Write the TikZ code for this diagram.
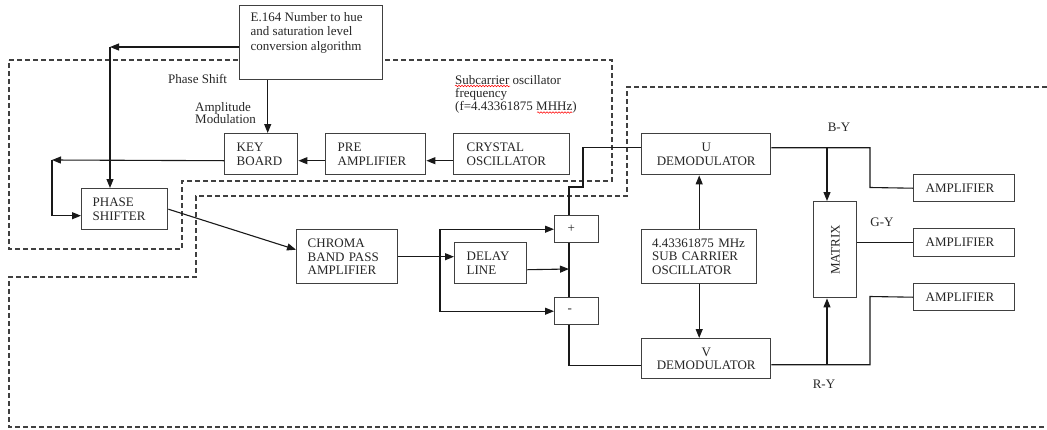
\documentclass[tikz,border=0pt]{standalone}
\usepackage{fontspec}
\setmainfont{Liberation Serif}
\usetikzlibrary{arrows.meta,decorations.pathmorphing}
\begin{document}
\begin{tikzpicture}[x=1pt,y=-1pt,
  every node/.style={font=\fontsize{13}{13.7}\selectfont, text=black!85},
  box/.style={draw=black!75, line width=1.4pt, fill=white, anchor=north west, inner ysep=0pt, align=left},
  arr/.style={-{Triangle[length=9pt,width=7pt]}, line width=1.1pt, draw=black!90},
  wire/.style={line width=1.1pt, draw=black!90},
  dashline/.style={draw=black!75, line width=1.2pt, dash pattern=on 5pt off 3pt},
  lbl/.style={inner sep=0pt, align=left},
  squig/.style={draw=red, line width=0.5pt, decorate, decoration={snake, amplitude=0.8pt, segment length=3pt}}
]
\useasboundingbox (0,0) rectangle (1047,429);

% dashed regions
\draw[dashline] (9,60) -- (612,60) -- (612,181) -- (182,181) -- (182,249) -- (9,249) -- cycle;
\draw[dashline] (1047,87) -- (627,87) -- (627,196) -- (196,196) -- (196,277) -- (9,277) -- (9,427) -- (1047,427);

% boxes
\node[box, minimum width=143, minimum height=74] (e164) at (239,5) {};
\node[lbl, anchor=west, font=\fontsize{13}{14.5}\selectfont] (e164t) at (250.5,32.5) {E.164 Number to hue\\and saturation level\\conversion algorithm};

\node[box, minimum height=41, text width=49, inner xsep=12] (kb) at (224,133) {KEY\\BOARD};
\node[box, minimum height=41, text width=76, inner xsep=12] (pre) at (325,133) {PRE\\AMPLIFIER};
\node[box, minimum height=41, text width=90, inner xsep=13] (cr) at (453,133) {CRYSTAL\\OSCILLATOR};
\node[box, minimum height=41, text width=64, inner xsep=11] (ps) at (81,188) {PHASE\\SHIFTER};
\node[box, minimum height=54, text width=79, inner xsep=11] (cb) at (296,229) {CHROMA\\BAND PASS\\AMPLIFIER};
\node[box, minimum height=41, text width=48, inner xsep=12] (dl) at (454,242) {DELAY\\LINE};
\node[box, minimum height=27, text width=18, inner xsep=13] (plus) at (554,215) {+};
\node[box, minimum height=27, text width=18, inner xsep=13] (minus) at (554,297) {-};
\node[box, minimum height=41, minimum width=129, align=center] (ud) at (641,133) {U\\DEMODULATOR};
\node[box, minimum height=40, minimum width=129, align=center] (vd) at (641,338) {V\\DEMODULATOR};
\node[box, minimum height=54, text width=94, inner xsep=10.5] (osc) at (641,229) {4.43361875 MHz\\SUB CARRIER\\OSCILLATOR};
\node[box, minimum width=43, minimum height=96] (mx) at (813,201) {};
\node[rotate=90, inner sep=0pt] (mxt) at (mx.center) {MATRIX};
\node[box, minimum height=27, text width=77, inner xsep=12] (a1) at (913,174) {AMPLIFIER};
\node[box, minimum height=28, text width=77, inner xsep=12] (a2) at (913,228) {AMPLIFIER};
\node[box, minimum height=27, text width=77, inner xsep=12] (a3) at (913,283) {AMPLIFIER};

% labels
\node[lbl, anchor=west] (lps) at (168,79) {Phase Shift};
\node[lbl, anchor=west, font=\fontsize{13}{12.6}\selectfont] (lam) at (195,113) {Amplitude\\Modulation};
\node[lbl, anchor=west, font=\fontsize{13}{13}\selectfont] (lsub) at (455,94) {Subcarrier oscillator\\frequency\\(f=4.43361875 MHHz)};
\node[lbl] (lby) at (839,127) {B-Y};
\node[lbl] (lgy) at (882,222) {G-Y};
\node[lbl] (lry) at (824,384) {R-Y};
\draw[squig] (455,86) -- (510,86);
\draw[squig] (537,112.5) -- (572,112.5);

% coordinates
\coordinate (c1) at (110,47);
\coordinate (c2) at (52,160);
\coordinate (c3) at (440,256);
\coordinate (j1) at (569,269);
\coordinate (j2) at (583,187);
\coordinate (k1) at (870,187.5);
\coordinate (k2) at (827,147);
\coordinate (k3) at (870,296.5);
\coordinate (k4) at (827,364);

% connectors
\draw[arr] (e164.west |- c1) -- (c1);
\draw[arr] (c1) -- (c1 |- ps.north);
\draw[arr] ([xshift=6.5]kb.north |- e164.south) -- ([xshift=6.5]kb.north);
\draw[arr] ([yshift=-6.5]cr.west) -- ([yshift=-6.5]pre.east);
\draw[arr] ([yshift=-6.5]pre.west) -- ([yshift=-6.5]kb.east);
\draw[arr] ([yshift=-6.5]kb.west) -- (c2);
\draw[arr] (c2) |- ([yshift=-6.5]ps.west);
\draw[arr] (ps.east) -- ([yshift=7]cb.west);
\draw[arr] (cb.east) -- (cb.east -| dl.west);
\draw[arr] (c3) |- (plus.west);
\draw[arr] (c3) |- (minus.west);
\draw[arr] ([yshift=-6.5]dl.east) -- (j1);
\draw[wire] (j1 |- plus.south) -- (j1 |- minus.north);
\draw[wire] (j1 |- plus.north) |- (j2) |- ([yshift=6.5]ud.west);
\draw[wire] (j1 |- minus.south) |- ([yshift=-7]vd.west);
\draw[arr] (osc.north) -- (osc.north |- ud.south);
\draw[arr] (osc.south) -- (osc.south |- vd.north);
\draw[wire] ([yshift=6.5]ud.east) -| (k1) -- (a1.west);
\draw[arr] (k2) -- (k2 |- mx.north);
\draw[wire] ([yshift=7]mx.east) -- (a2.west);
\draw[wire] ([yshift=-6]vd.east) -| (k3) -- (a3.west);
\draw[arr] (k4) -- (k4 |- mx.south);
\end{tikzpicture}
\end{document}
